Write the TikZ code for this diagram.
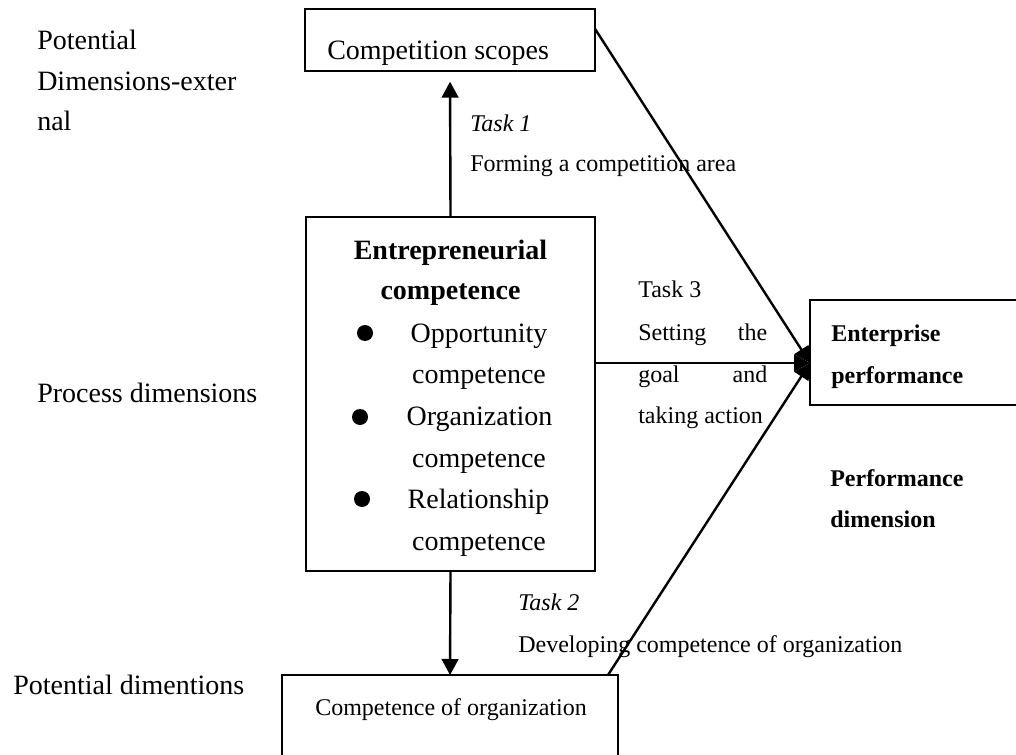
\documentclass[tikz,border=0pt]{standalone}
\usepackage{fontspec}
\setmainfont{Liberation Serif}
\usetikzlibrary{arrows.meta,calc}

\begin{document}
\begin{tikzpicture}[x=0.75pt,y=-0.75pt,
  big/.style={font=\fontsize{21pt}{25pt}\selectfont, inner sep=0pt},
  small/.style={font=\fontsize{18pt}{22pt}\selectfont, inner sep=0pt},
  boxed/.style={draw, line width=1.4pt, rectangle, inner sep=0pt, outer sep=0pt},
  link/.style={line width=1.8pt},
  arr/.style={link, -{Triangle[length=12pt,width=12.5pt]}},
  dot/.style={circle, fill, inner sep=0pt, minimum size=12pt}
]
\clip (0,0) rectangle (1016,755);
\fill[white] (0,0) rectangle (1016,755);

% dimension labels on the left
\node[big, anchor=base west] (pe1) at (37,50) {Potential};
\node[big, anchor=base west] (pe2) at (37,91) {Dimensions-exter};
\node[big, anchor=base west] (pe3) at (37,131) {nal};
\node[big, anchor=base west] (proc) at (37,402) {Process dimensions};
\node[big, anchor=base west] (pot) at (13,694) {Potential dimentions};

% competition scopes
\node[boxed, minimum width=217.5pt, minimum height=46.5pt] (scope) at (450,40) {};
\node[big, anchor=base west] (scopet) at (327,60) {Competition scopes};

% task 1
\node[small, anchor=base west, font=\fontsize{18pt}{22pt}\selectfont\itshape] (t1) at (470,132) {Task 1};
\node[small, anchor=base west] (t1b) at (470,172) {Forming a competition area};

% entrepreneurial competence
\node[boxed, minimum width=216.75pt, minimum height=265.5pt] (ent) at (450.5,394) {};
\node[big, anchor=base, font=\fontsize{21pt}{25pt}\selectfont\bfseries] (e1) at (450.5,260) {Entrepreneurial};
\node[big, anchor=base, font=\fontsize{21pt}{25pt}\selectfont\bfseries] (e2) at (450.5,300) {competence};
\node[dot] (d1) at (365,333) {};
\node[dot] (d2) at (360,417) {};
\node[dot] (d3) at (362,499) {};
\node[big, anchor=base] (o1) at (479,342) {Opportunity};
\node[big, anchor=base] (o2) at (479,383) {competence};
\node[big, anchor=base] (g1) at (479.5,425) {Organization};
\node[big, anchor=base] (g2) at (479,467) {competence};
\node[big, anchor=base] (r1) at (478.5,508) {Relationship};
\node[big, anchor=base] (r2) at (479,550) {competence};

% task 3
\node[small, anchor=base west] (t3) at (638,298) {Task 3};
\node[small, anchor=base west] (t3b) at (638,340) {\hbox to 96.75pt{Setting\hfill the}};
\node[small, anchor=base west] (t3c) at (638,382) {\hbox to 96.75pt{goal\hfill and}};
\node[small, anchor=base west] (t3d) at (638,423) {taking action};

% enterprise performance
\node[boxed, minimum width=172.5pt, minimum height=78.75pt] (perf) at (925,352.5) {};
\node[small, anchor=base west, font=\fontsize{18pt}{22pt}\selectfont\bfseries] (p1) at (831,341) {Enterprise};
\node[small, anchor=base west, font=\fontsize{18pt}{22pt}\selectfont\bfseries] (p2) at (831,383) {performance};
\node[small, anchor=base west, font=\fontsize{18pt}{22pt}\selectfont\bfseries] (pd1) at (830,486) {Performance};
\node[small, anchor=base west, font=\fontsize{18pt}{22pt}\selectfont\bfseries] (pd2) at (830,527) {dimension};

% task 2
\node[small, anchor=base west, font=\fontsize{18pt}{22pt}\selectfont\itshape] (t2) at (518,610) {Task 2};
\node[small, anchor=base west] (t2b) at (518,652) {Developing competence of organization};

% competence of organization
\node[boxed, minimum width=252pt, minimum height=93.75pt] (org) at (450,737.5) {};
\node[small, anchor=base west] (orgt) at (315,715) {Competence of organization};

% connectors
\coordinate (hub) at (810,363);
\draw[arr, shorten >=8pt] (ent.north) -- (scope.south);
\draw[arr] (ent.south) -- (org.north);
\draw[arr] (ent.east |- hub) -- (hub);
\draw[arr] ($(scope.north east)!0.32!(scope.south east)$) -- (hub);
\draw[arr] ([xshift=-7.5pt]org.north east) -- (hub);
\end{tikzpicture}
\end{document}
